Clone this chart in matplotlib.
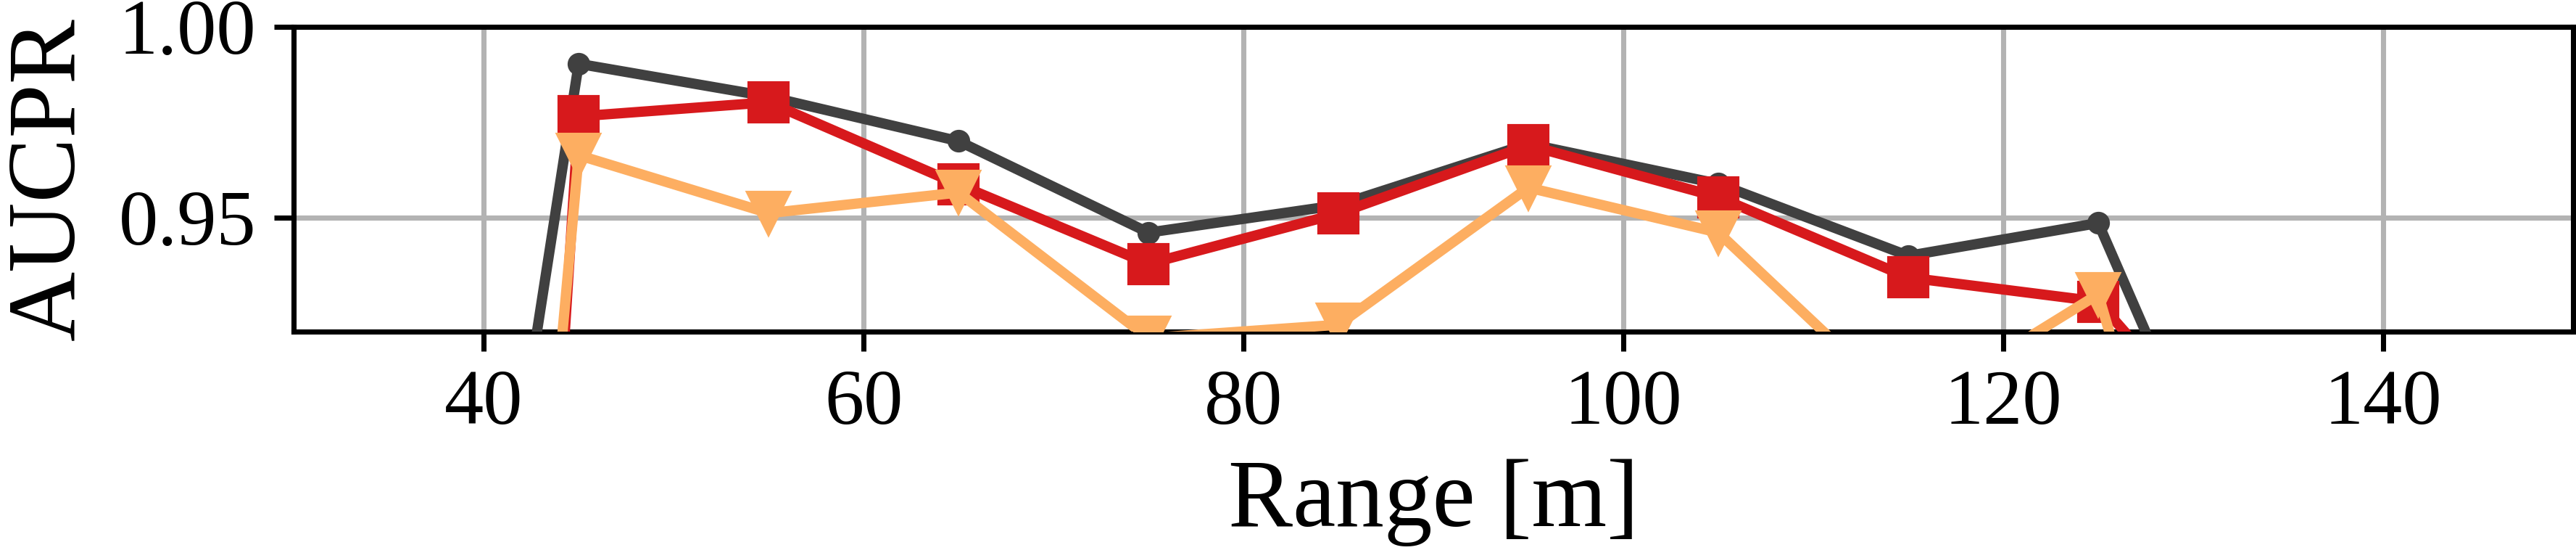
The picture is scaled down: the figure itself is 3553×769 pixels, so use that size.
import numpy as np
import matplotlib
matplotlib.use("Agg")
import matplotlib.pyplot as plt

plt.rcParams['font.family'] = ['Liberation Serif', 'DejaVu Serif']

# range bins [m]
ranges = [35, 45, 55, 65, 75, 85, 95, 105, 115, 125, 135]

# AUCPR per range bin (points outside the y-window are clipped)
aucpr_gray = [0.67, 0.9903, 0.9817, 0.9700, 0.9460, 0.9532, 0.9693, 0.9588, 0.9399, 0.9485, 0.834]
aucpr_red = [0.20, 0.9765, 0.9802, 0.9586, 0.9378, 0.9510, 0.9689, 0.9553, 0.9342, 0.9279, 0.871]
aucpr_orange = [0.42, 0.9663, 0.9511, 0.9565, 0.9183, 0.9218, 0.9578, 0.9460, 0.899, 0.9298, 0.76]

fig = plt.figure(figsize=(3554 / 300, 769 / 300), dpi=300)
ax = fig.add_axes([0.114, 0.4057, 0.8846, 0.5462])

ax.plot(ranges, aucpr_gray, color='#404040', lw=3.4, marker='o', ms=6.5, zorder=3)
ax.plot(ranges, aucpr_red, color='#d7191c', lw=3.4, marker='s', ms=13, zorder=4)
ax.plot(ranges, aucpr_orange, color='#fdae61', lw=3.4, marker='v', ms=14, zorder=5)

ax.set_xlim(30, 150)
ax.set_ylim(0.92, 1.00)
ax.set_xticks([40, 60, 80, 100, 120, 140])
ax.set_yticks([0.95, 1.00])
ax.set_yticklabels(['0.95', '1.00'])
ax.grid(True, color='#b3b3b3', lw=1.7)
ax.set_axisbelow(True)

for s in ax.spines.values():
    s.set_linewidth(1.7)
ax.tick_params(labelsize=26, width=1.7, length=6.5, pad=6)

ax.set_xlabel('Range [m]', fontsize=32, labelpad=6)
ax.set_ylabel('AUCPR', fontsize=32, labelpad=8)

fig.savefig('out.png', dpi=300)
